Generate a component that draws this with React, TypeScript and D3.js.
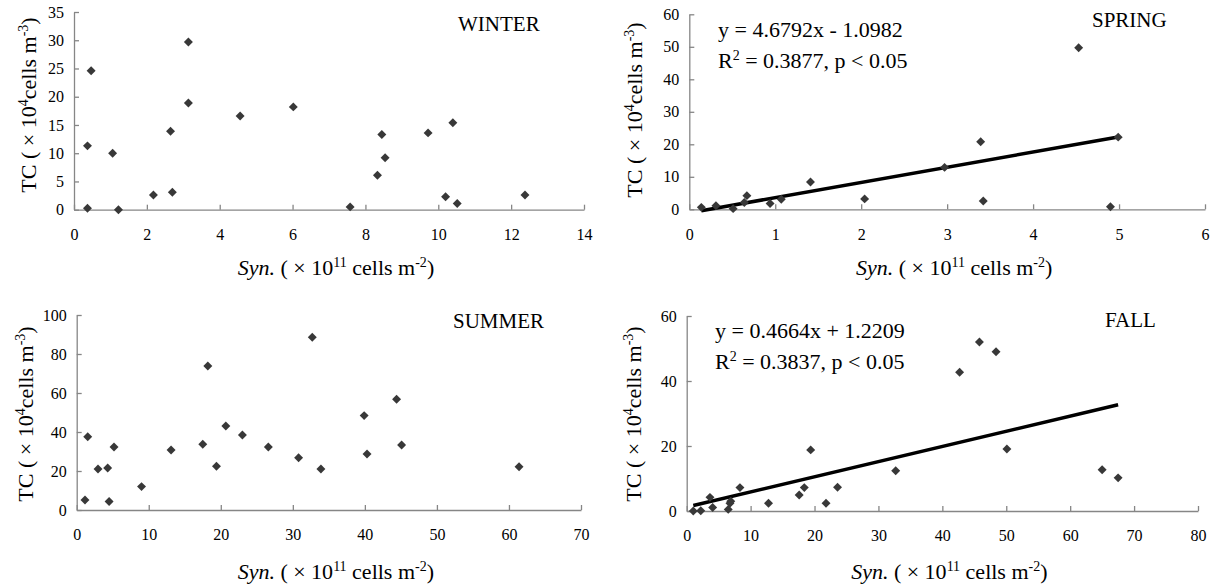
import React, { useEffect, useRef } from 'react';
import * as d3 from 'd3';

// WINTER
const winterX = [0.37, 0.37, 0.47, 1.06, 1.22, 2.18, 2.65, 2.7, 3.14, 3.14, 4.56, 6.02, 7.58, 8.33, 8.45, 8.54, 9.72, 10.2, 10.4, 10.52, 12.38];
const winterY = [11.3, 0.25, 24.6, 10.0, 0.0, 2.6, 13.9, 3.1, 29.7, 18.9, 16.6, 18.2, 0.5, 6.1, 13.3, 9.2, 13.6, 2.3, 15.4, 1.1, 2.6];
const winterXTicks = [0, 2, 4, 6, 8, 10, 12, 14];
const winterYTicks = [0, 5, 10, 15, 20, 25, 30, 35];

// SPRING
const springX = [0.14, 0.31, 0.51, 0.64, 0.67, 0.94, 1.07, 1.41, 2.04, 2.97, 3.39, 3.42, 4.53, 4.9, 4.99];
const springY = [0.6, 1.1, 0.2, 2.1, 4.2, 1.8, 3.1, 8.4, 3.2, 12.9, 20.8, 2.55, 49.7, 0.8, 22.2];
const springXTicks = [0, 1, 2, 3, 4, 5, 6];
const springYTicks = [0, 10, 20, 30, 40, 50, 60];
const springFit = [4.6792, -1.0982];

// SUMMER
const summerX = [1.15, 1.53, 2.96, 4.3, 4.5, 5.18, 9.0, 13.1, 17.5, 18.2, 19.4, 20.7, 23.0, 26.6, 30.8, 32.7, 33.9, 39.9, 40.3, 44.4, 45.1, 61.4];
const summerY = [5.1, 37.6, 21.0, 21.5, 4.4, 32.3, 12.0, 30.8, 33.7, 73.8, 22.4, 43.1, 38.5, 32.3, 26.8, 88.6, 21.0, 48.4, 28.7, 56.8, 33.3, 22.2];
const summerXTicks = [0, 10, 20, 30, 40, 50, 60, 70];
const summerYTicks = [0, 20, 40, 60, 80, 100];

// FALL
const fallX = [1.03, 2.2, 3.64, 4.06, 6.5, 6.77, 6.9, 8.33, 12.8, 17.6, 18.4, 19.4, 21.8, 23.6, 32.7, 42.7, 45.8, 48.4, 50.1, 65.0, 67.5];
const fallY = [0.0, 0.1, 4.2, 1.1, 0.5, 2.4, 3.0, 7.2, 2.4, 4.9, 7.2, 18.8, 2.4, 7.3, 12.4, 42.7, 52.0, 49.0, 19.1, 12.7, 10.2];
const fallXTicks = [0, 10, 20, 30, 40, 50, 60, 70, 80];
const fallYTicks = [0, 20, 40, 60];
const fallFit = [0.4664, 1.2209];

const FONT = "'Liberation Serif','Times New Roman',serif";
const AXIS = '#868686';
const MARK = '#383838';

export default function App() {
  const ref = useRef<SVGSVGElement>(null);

  useEffect(() => {
    const svg = d3.select(ref.current);
    svg.selectAll('*').remove();

    function panel(o: any) {
      const x = d3.scaleLinear().domain([0, o.xTicks[o.xTicks.length - 1]]).range(o.xr);
      const y = d3.scaleLinear().domain([0, o.yTicks[o.yTicks.length - 1]]).range(o.yr);
      const g = svg.append('g');

      const xa = g.append('g')
        .attr('transform', `translate(0,${o.yr[0]})`)
        .call(d3.axisBottom(x).tickValues(o.xTicks).tickSize(-5).tickSizeOuter(0).tickPadding(19).tickFormat(d3.format('d')));
      const ya = g.append('g')
        .attr('transform', `translate(${o.xr[0]},0)`)
        .call(d3.axisLeft(y).tickValues(o.yTicks).tickSize(-5).tickSizeOuter(0).tickPadding(10).tickFormat(d3.format('d')));
      [xa, ya].forEach(a => {
        a.select('.domain').attr('stroke', AXIS).attr('stroke-width', 1.3);
        a.selectAll('.tick line').attr('stroke', AXIS).attr('stroke-width', 1.3);
        a.selectAll('.tick text').attr('fill', '#000').style('font-family', FONT).style('font-size', '16px');
      });

      if (o.fit) {
        const ext = d3.extent(o.xs as number[]) as [number, number];
        const line = d3.line<number>().x(d => x(d)).y(d => y(o.fit[0] * d + o.fit[1]));
        g.append('path').attr('d', line(ext)).attr('stroke', '#000').attr('stroke-width', 3.5).attr('fill', 'none');
      }

      const sym = d3.symbol().type(d3.symbolSquare).size(40);
      g.selectAll('.pt').data(o.xs).enter().append('path')
        .attr('d', sym())
        .attr('transform', (d: number, i: number) => `translate(${x(d)},${y(o.ys[i])}) rotate(45)`)
        .attr('fill', MARK);

      // season label
      g.append('text').attr('x', o.label[1]).attr('y', o.label[2])
        .style('font-family', FONT).style('font-size', '21px').text(o.label[0]);

      // y title
      const yt = g.append('text')
        .attr('transform', `translate(${o.yt[0]},${o.yt[1]}) rotate(-90)`)
        .attr('text-anchor', 'middle')
        .style('font-family', FONT).style('font-size', '22px');
      yt.append('tspan').text('TC ( × 10');
      yt.append('tspan').attr('dy', -8).style('font-size', '14px').text('4');
      yt.append('tspan').attr('dy', 8).text('cells m');
      yt.append('tspan').attr('dy', -8).style('font-size', '14px').text('-3');
      yt.append('tspan').attr('dy', 8).text(')');

      // x title
      const xt = g.append('text')
        .attr('x', (o.xr[0] + o.xr[1]) / 2 + 7).attr('y', o.xt)
        .attr('text-anchor', 'middle')
        .style('font-family', FONT).style('font-size', '22px');
      xt.append('tspan').style('font-style', 'italic').text('Syn.');
      xt.append('tspan').text(' ( × 10');
      xt.append('tspan').attr('dy', -8).style('font-size', '14px').text('11');
      xt.append('tspan').attr('dy', 8).text(' cells m');
      xt.append('tspan').attr('dy', -8).style('font-size', '14px').text('-2');
      xt.append('tspan').attr('dy', 8).text(')');

      if (o.eq) {
        const t1 = g.append('text').attr('x', o.eq[0]).attr('y', o.eq[1])
          .style('font-family', FONT).style('font-size', '22px');
        t1.text(o.eq[2]);
        const t2 = g.append('text').attr('x', o.eq[0]).attr('y', o.eq[1] + 31)
          .style('font-family', FONT).style('font-size', '22px');
        t2.append('tspan').text('R');
        t2.append('tspan').attr('dy', -8).style('font-size', '14px').text('2');
        t2.append('tspan').attr('dy', 8).text(o.eq[3]);
      }
    }

    panel({
      xs: winterX, ys: winterY, xTicks: winterXTicks, yTicks: winterYTicks,
      xr: [74, 584], yr: [209.7, 12], label: ['WINTER', 458, 31], yt: [36, 105], xt: 275,
    });
    panel({
      xs: springX, ys: springY, xTicks: springXTicks, yTicks: springYTicks, fit: springFit,
      xr: [689.3, 1205], yr: [209.3, 14.3], label: ['SPRING', 1092, 27], yt: [642, 110], xt: 275,
      eq: [718, 37, 'y = 4.6792x - 1.0982', ' = 0.3877, p < 0.05'],
    });
    panel({
      xs: summerX, ys: summerY, xTicks: summerXTicks, yTicks: summerYTicks,
      xr: [76.7, 581], yr: [510, 315], label: ['SUMMER', 453, 328], yt: [33, 414], xt: 579,
    });
    panel({
      xs: fallX, ys: fallY, xTicks: fallXTicks, yTicks: fallYTicks, fit: fallFit,
      xr: [686.7, 1198], yr: [511, 316], label: ['FALL', 1105, 327], yt: [641, 414], xt: 579,
      eq: [715, 338, 'y = 0.4664x + 1.2209', ' = 0.3837, p < 0.05'],
    });
  }, []);

  return (
    <svg ref={ref} width={1217} height={587}
      style={{ position: 'absolute', left: 0, top: 0, background: '#fff' }} />
  );
}
